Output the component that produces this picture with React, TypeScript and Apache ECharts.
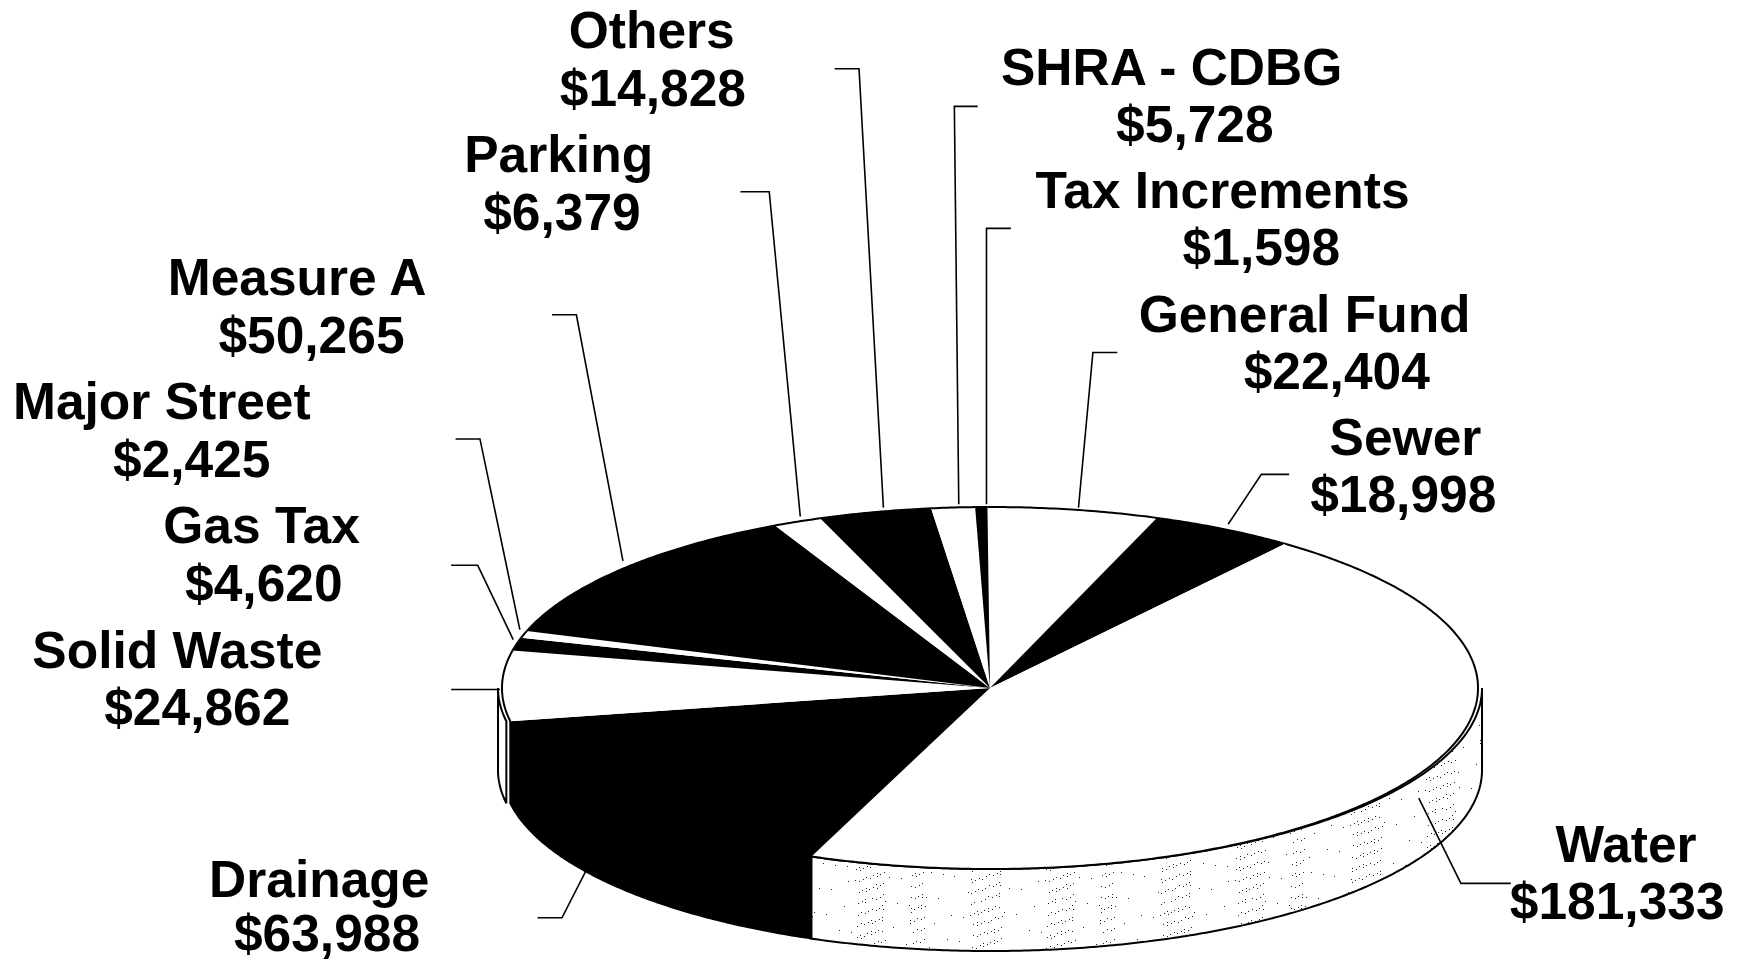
import React, { useEffect, useRef } from "react";
import * as echarts from "echarts";

const categories = ["General Fund", "Sewer", "Water", "Drainage", "Solid Waste", "Gas Tax", "Major Street", "Measure A", "Parking", "Others", "SHRA - CDBG", "Tax Increments"];
const values = [22404, 18998, 181333, 63988, 24862, 4620, 2425, 50265, 6379, 14828, 5728, 1598];
const valueLabels = ["$22,404", "$18,998", "$181,333", "$63,988", "$24,862", "$4,620", "$2,425", "$50,265", "$6,379", "$14,828", "$5,728", "$1,598"];

// layout, in the coordinates of the full-size picture
const S = 1738 / 1568;
const CX = 990, CY = 688, RX = 488, RY = 181, DEPTH = 82, SIDE_EXTRA = 4, START = -0.3;
const FONT = 51.5;
const total = values.reduce((a, b) => a + b, 0);
const angles: number[] = [START];
values.forEach((v, i) => angles.push(angles[i] + (v / total) * 360));

const nameX = [1177, 1268, 1467, 288, 160, 236, 146, 268, 504, 588, 1057, 1103];
const nameY = [283, 394, 761, 793, 586, 474, 362, 250, 139, 27, 60, 171];
const valueX = [1206, 1266, 1459, 295, 178, 238, 173, 281, 507, 589, 1078, 1138];
const valueY = [335, 446, 813, 842, 638, 526, 414, 302, 191, 79, 112, 223];

const leaders: number[][][] = [
  [[1008, 318], [986, 318], [973, 458]],
  [[1163, 428], [1138, 428], [1108, 473]],
  [[1363, 797], [1318, 797], [1280, 720]],
  [[485, 828], [507, 828], [530, 783]],
  [[407, 622], [451, 622]],
  [[407, 510], [431, 510], [463, 577]],
  [[411, 396], [433, 396], [469, 568]],
  [[498, 284], [520, 284], [562, 506]],
  [[668, 173], [694, 173], [722, 466]],
  [[753, 62], [775, 62], [797, 458]],
  [[882, 96], [861, 96], [865, 455]],
  [[912, 206], [890, 206], [890, 455]],
];

const isBlack = (i: number) => i % 2 === 1;

function pt(deg: number, rx: number, yOff = 0): number[] {
  const a = (deg * Math.PI) / 180;
  return [CX + rx * Math.sin(a), CY - RY * Math.cos(a) + yOff];
}
function arc(a0: number, a1: number, rx: number, yOff = 0): number[][] {
  const pts: number[][] = [];
  const n = Math.max(2, Math.ceil(Math.abs(a1 - a0) * 2));
  for (let k = 0; k <= n; k++) pts.push(pt(a0 + ((a1 - a0) * k) / n, rx, yOff));
  return pts;
}

function stippleTile(): HTMLCanvasElement {
  const W = 190, H = 90;
  const c = document.createElement("canvas");
  c.width = W;
  c.height = H;
  const g = c.getContext("2d")!;
  g.fillStyle = "#ffffff";
  g.fillRect(0, 0, W, H);
  g.fillStyle = "#222222";
  for (let k = 1; k < 1500; k++) {
    const x = ((k * 0.7548776662) % 1) * W;
    const y = ((k * 0.5698402910) % 1) * H;
    const inBand = (x > 20 && x < 52) || (x > 95 && x < 125) || (x > 150 && x < 165);
    if (inBand ? k % 3 === 0 : k % 29 === 0) g.fillRect(Math.round(x), Math.round(y), 1, 1);
  }
  return c;
}

export default function App() {
  const ref = useRef<HTMLDivElement>(null);
  useEffect(() => {
    const chart = echarts.init(ref.current!, undefined, { renderer: "svg" });
    const pattern = { image: stippleTile(), repeat: "repeat" };

    const sideItem = (_p: any, api: any) => {
      const i = api.value(0);
      const a0 = Math.max(angles[i], 90), a1 = Math.min(angles[i + 1], 270);
      if (a1 <= a0) return { type: "group", children: [] };
      const rx = i === 3 ? RX : RX + SIDE_EXTRA;
      const points = [...arc(a0, a1, rx), ...arc(a1, a0, rx, DEPTH)];
      return {
        type: "polygon",
        shape: { points },
        style: { fill: isBlack(i) ? "#000000" : i === 2 ? pattern : "#ffffff", stroke: "#000000", lineWidth: 2 },
      };
    };
    const topItem = (_p: any, api: any) => {
      const i = api.value(0);
      const a0 = angles[i], a1 = angles[i + 1];
      return {
        type: "group",
        children: [
          {
            type: "polygon",
            shape: { points: [[CX, CY], ...arc(a0, a1, RX)] },
            style: { fill: isBlack(i) ? "#000000" : "#ffffff", stroke: "none" },
          },
          {
            type: "polyline",
            shape: { points: arc(a0, a1, RX) },
            style: { fill: "none", stroke: "#000000", lineWidth: 2 },
          },
        ],
      };
    };

    const data = values.map((v, i) => [i, v]);
    const font = `bold ${FONT}px "Liberation Sans", Arial, sans-serif`;
    const texts: any[] = [];
    categories.forEach((name, i) => {
      texts.push({ type: "text", x: nameX[i] * S, y: nameY[i] * S, style: { text: name, x: 0, y: 0, align: "center", verticalAlign: "middle", fill: "#000", font } });
      texts.push({ type: "text", x: valueX[i] * S, y: valueY[i] * S, style: { text: valueLabels[i], x: 0, y: 0, align: "center", verticalAlign: "middle", fill: "#000", font } });
    });
    const lines = leaders.map((l) => ({
      type: "polyline",
      z: 10,
      shape: { points: l.map(([x, y]) => [x * S, y * S]) },
      style: { fill: "none", stroke: "#000", lineWidth: 1.6 },
    }));

    chart.setOption({
      animation: false,
      backgroundColor: "#ffffff",
      series: [
        { type: "custom", coordinateSystem: "none", silent: true, z: 1, data, encode: { value: [0, 1] }, renderItem: sideItem },
        { type: "custom", coordinateSystem: "none", silent: true, z: 2, data, encode: { value: [0, 1] }, renderItem: topItem },
      ],
      graphic: [...lines, ...texts],
    });
    return () => chart.dispose();
  }, []);
  return <div ref={ref} style={{ position: "absolute", left: 0, top: 0, width: 1738, height: 962 }} />;
}
